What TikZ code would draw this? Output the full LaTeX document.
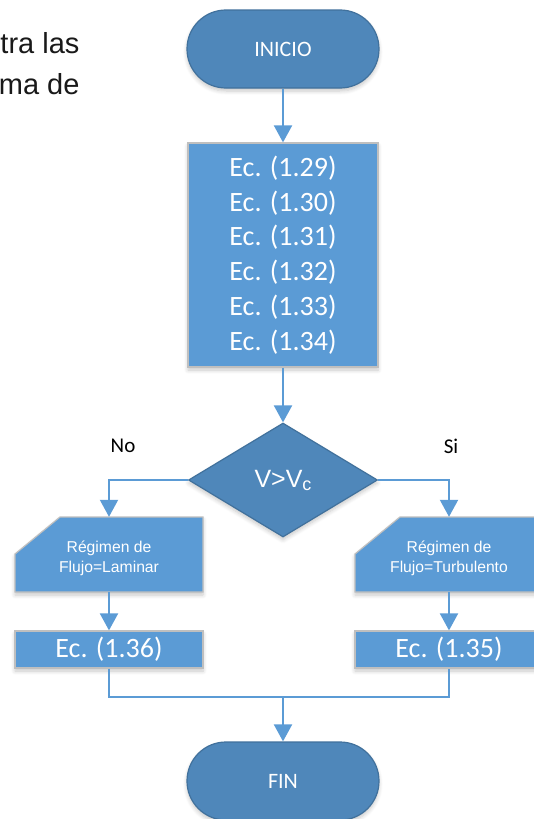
\documentclass[tikz,border=0pt]{standalone}
\usepackage{fontspec}
\setmainfont{Carlito}
\newfontfamily\arialfont{Liberation Sans}
\usetikzlibrary{arrows.meta,shapes.geometric,shadows.blur}

\definecolor{termfill}{RGB}{79,135,186}
\definecolor{termedge}{RGB}{65,113,156}
\definecolor{boxfill}{RGB}{91,155,213}
\definecolor{boxedge}{RGB}{191,191,191}
\definecolor{flowline}{RGB}{91,155,213}

\begin{document}
\begin{tikzpicture}[x=1pt,y=-1pt,
  softshadow/.style={blur shadow={shadow xshift=0pt,shadow yshift=-3pt,
      shadow blur radius=4pt,shadow opacity=22,shadow blur steps=6}},
  terminal/.style={draw=termedge,line width=1.2pt,fill=termfill,
      rounded corners=38.9pt,minimum width=192pt,minimum height=78pt,
      inner sep=0pt,text=white,font=\fontsize{22}{26}\selectfont,softshadow},
  eqbox/.style={draw=boxedge,line width=1.2pt,fill=boxfill,inner sep=0pt,
      text=white,align=center,softshadow},
  decision/.style={diamond,aspect=1.658,draw=termedge,line width=1.2pt,
      fill=termfill,minimum width=189pt,minimum height=114pt,inner sep=0pt,
      text=white,font=\arialfont\fontsize{25}{30}\selectfont,softshadow},
  manualin/.style={minimum width=188pt,minimum height=75pt,inner sep=0pt,
      text=white,align=center,font=\arialfont\fontsize{15.7}{20}\selectfont},
  manualpoly/.style={draw=boxedge,line width=1.2pt,fill=boxfill,softshadow},
  flow/.style={draw=flowline,line width=2pt,-{Triangle[length=17pt,width=18pt]}},
  link/.style={draw=flowline,line width=2pt},
  branchlabel/.style={font=\fontsize{21}{25}\selectfont,text=black},
  pagetext/.style={font=\arialfont\fontsize{29}{29}\selectfont,text=black!90,anchor=base east}
]
\useasboundingbox (0,0) rectangle (534,819);

% fragments of the surrounding page text
\node[pagetext] (p1) at (83,53) {tra las};
\node[pagetext] (p2) at (83,94) {ma de};

% main column
\node[terminal] (start) at (283,49) {INICIO};
\node[eqbox,minimum width=190pt,minimum height=224pt,
      font=\fontsize{28}{34.8}\selectfont] (eqs) at (283,255)
  {Ec. (1.29)\\Ec. (1.30)\\Ec. (1.31)\\Ec. (1.32)\\Ec. (1.33)\\Ec. (1.34)};
\node[decision] (dec) at (283,480) {V>V\raisebox{-3pt}{\fontsize{18}{18}\selectfont c}};

\node[branchlabel] (no) at (123,446) {No};
\node[branchlabel] (si) at (451,446) {Si};

% manual-input shapes (top-left corner cut off), text placed on top
\draw[manualpoly] (60,517) -- (203,517) -- (203,592) -- (15,592) -- (15,554) -- cycle;
\draw[manualpoly] (400,517) -- (543,517) -- (543,592) -- (355,592) -- (355,554) -- cycle;
\node[manualin] (ml) at (109,554.5) {};
\node[manualin] (mr) at (449,554.5) {};
\node[manualin,minimum height=0pt] (mltext) at (109,558) {Régimen de\\Flujo=Laminar};
\node[manualin,minimum height=0pt] (mrtext) at (449,558) {Régimen de\\Flujo=Turbulento};

\node[eqbox,minimum width=188pt,minimum height=37pt,
      font=\fontsize{28}{34}\selectfont] (el) at (109,649.5) {Ec. (1.36)};
\node[eqbox,minimum width=188pt,minimum height=37pt,
      font=\fontsize{28}{34}\selectfont] (er) at (449,649.5) {Ec. (1.35)};

\node[terminal] (end) at (283,781) {FIN};

% connectors
\coordinate (join) at (283,697);
\draw[flow] (start.south) -- (eqs.north);
\draw[flow] (eqs.south) -- (dec.north);
\draw[flow] (dec.west) -| (ml.north);
\draw[flow] (dec.east) -| (mr.north);
\draw[flow] (ml.south) -- (el.north);
\draw[flow] (mr.south) -- (er.north);
\draw[link] (el.south) |- (join) -| (er.south);
\draw[flow] (join) -- (end.north);
\end{tikzpicture}
\end{document}
